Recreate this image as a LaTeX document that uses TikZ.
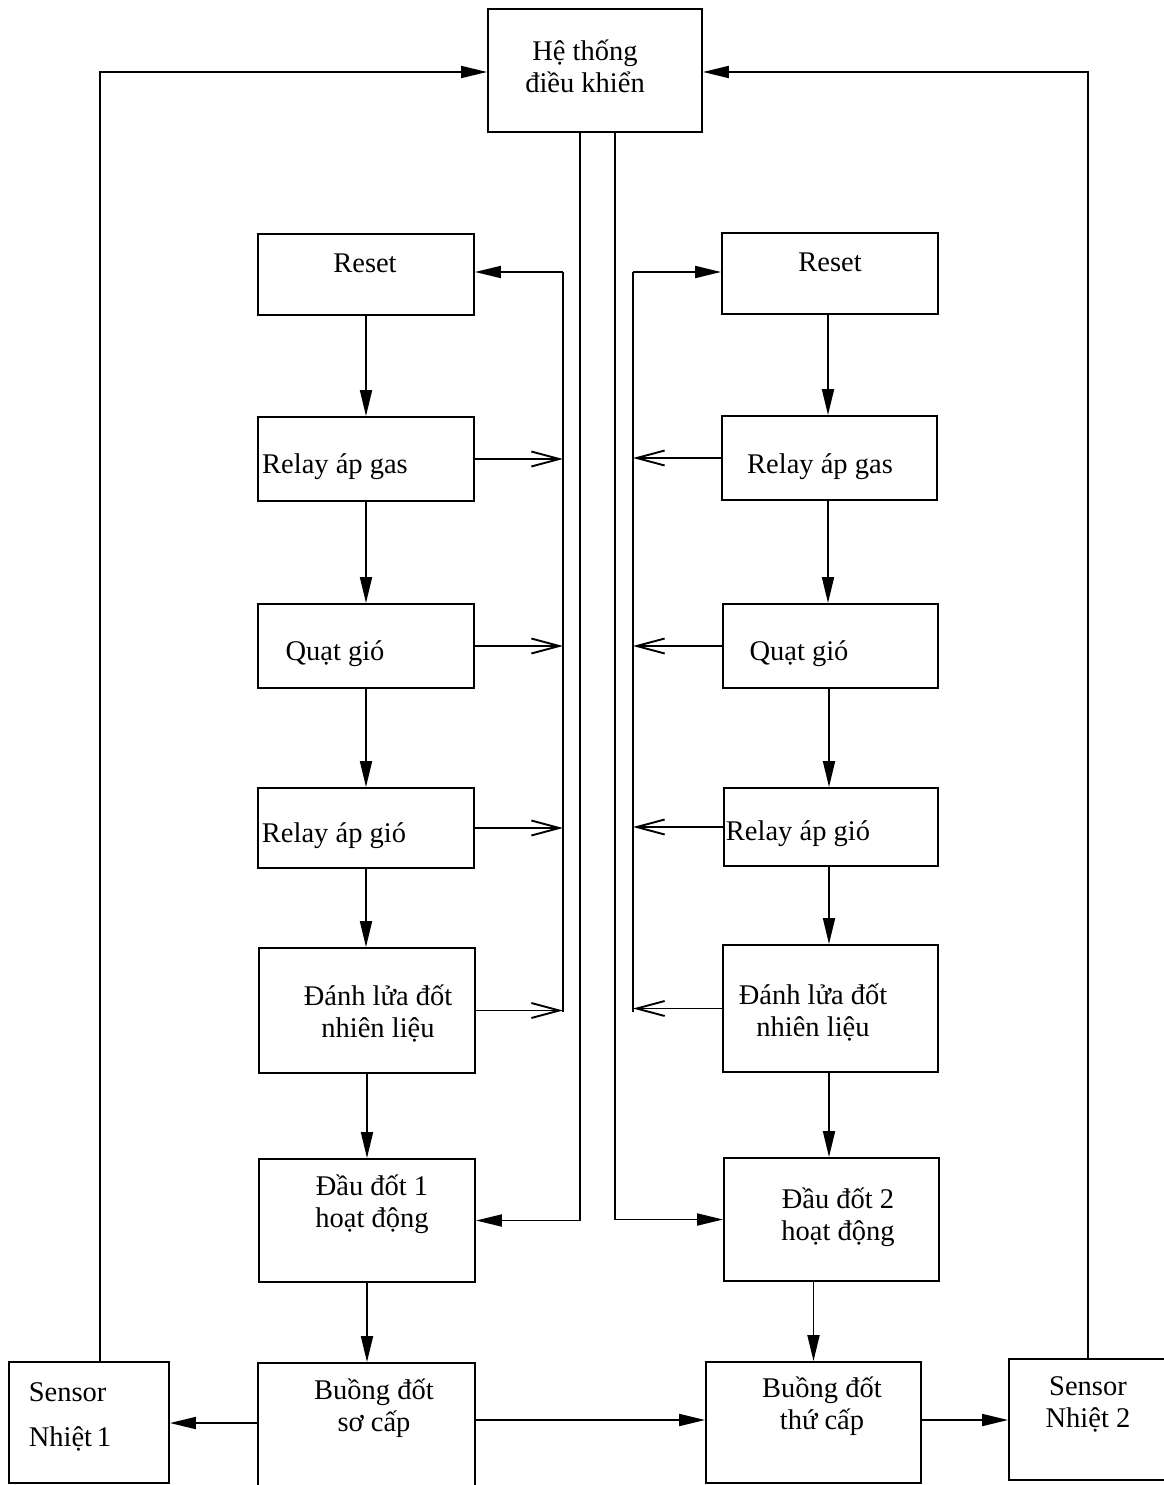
\documentclass[tikz,border=0pt]{standalone}
\usepackage{fontspec}
\setmainfont{Liberation Serif}
\usetikzlibrary{arrows.meta}
\begin{document}
\begin{tikzpicture}[x=1pt,y=-1pt,
  box/.style={draw,line width=1.9pt,rectangle,inner sep=0pt},
  txt/.style={inner sep=0pt,align=center,font=\fontsize{28.5}{32}\selectfont},
  ln/.style={line width=1.9pt},
  fa/.style={line width=1.9pt,-{Triangle[length=26pt,width=12pt]}},
  oa/.style={line width=1.9pt,-{Straight Barb[length=28pt,width=15pt]}}]
\useasboundingbox (0,0) rectangle (1163,1485);
\fill[white] (0,0) rectangle (1163,1485);
% boxes
\node[box,minimum width=214pt,minimum height=123pt] (top) at (595,70.5) {};
\node[box,minimum width=216pt,minimum height=81pt] (rL) at (366,274.5) {};
\node[box,minimum width=216pt,minimum height=84pt] (gL) at (366,459) {};
\node[box,minimum width=216pt,minimum height=84pt] (qL) at (366,646) {};
\node[box,minimum width=216pt,minimum height=80pt] (aL) at (366,828) {};
\node[box,minimum width=216pt,minimum height=125pt] (dL) at (367,1010.5) {};
\node[box,minimum width=216pt,minimum height=123pt] (hL) at (367,1220.5) {};
\node[box,minimum width=217pt,minimum height=130pt] (bL) at (366.5,1428) {};
\node[box,minimum width=160pt,minimum height=121pt] (sL) at (89,1422.5) {};
\node[box,minimum width=216pt,minimum height=81pt] (rR) at (830,273.5) {};
\node[box,minimum width=215pt,minimum height=84pt] (gR) at (829.5,458) {};
\node[box,minimum width=215pt,minimum height=84pt] (qR) at (830.5,646) {};
\node[box,minimum width=214pt,minimum height=78pt] (aR) at (831,827) {};
\node[box,minimum width=215pt,minimum height=127pt] (dR) at (830.5,1008.5) {};
\node[box,minimum width=215pt,minimum height=123pt] (hR) at (831.5,1219.5) {};
\node[box,minimum width=215pt,minimum height=121pt] (bR) at (813.5,1422.5) {};
\node[box,minimum width=161pt,minimum height=121pt] (sR) at (1089.5,1419.5) {};
% texts
\node[txt] (ttop) at (585,66) {Hệ thống\\điều khiển};
\node[txt] (trL) at (365,263) {Reset};
\node[txt] (tgL) at (335,467) {Relay áp gas};
\node[txt] (tqL) at (335,654) {Quạt gió};
\node[txt] (taL) at (334,836) {Relay áp gió};
\node[txt] (tdL) at (378,1014) {Đánh lửa đốt\\nhiên liệu};
\node[txt] (thL) at (372,1204) {Đầu đốt 1\\hoạt động};
\node[txt] (tbL) at (374,1408) {Buồng đốt\\sơ cấp};
\node[txt,align=left] (tsL) at (70,1417) {Sensor\\[13pt]Nhiệt\,1};
\node[txt] (trR) at (830,262) {Reset};
\node[txt] (tgR) at (820,467) {Relay áp gas};
\node[txt] (tqR) at (799,654) {Quạt gió};
\node[txt] (taR) at (798,834) {Relay áp gió};
\node[txt] (tdR) at (813,1013) {Đánh lửa đốt\\nhiên liệu};
\node[txt] (thR) at (838,1217) {Đầu đốt 2\\hoạt động};
\node[txt] (tbR) at (822,1406) {Buồng đốt\\thứ cấp};
\node[txt] (tsR) at (1088,1404) {Sensor\\Nhiệt 2};
% column flow
\draw[fa] (rL.south) -- (gL.north);
\draw[fa] (gL.south) -- (qL.north);
\draw[fa] (qL.south) -- (aL.north);
\draw[fa] (aL.south) -- (aL.south |- dL.north);
\draw[fa] (dL.south) -- (hL.north);
\draw[fa] (hL.south) -- (hL.south |- bL.north);
\draw[fa] (rR.south -| 828,0) -- (gR.north -| 828,0);
\draw[fa] (gR.south -| 828,0) -- (qR.north -| 828,0);
\draw[fa] (qR.south -| 829,0) -- (aR.north -| 829,0);
\draw[fa] (aR.south -| 829,0) -- (dR.north -| 829,0);
\draw[fa] (dR.south -| 829,0) -- (hR.north -| 829,0);
\draw[fa] (hR.south -| bR.north) -- (bR.north);
% buses
\coordinate (lbT) at (563,272);
\coordinate (lbB) at (563,1012);
\coordinate (rbT) at (633,272);
\coordinate (rbB) at (633,1012);
\draw[ln] (lbB) -- (lbT);
\draw[fa] (lbT) -- (rL.east |- lbT);
\draw[ln] (rbB) -- (rbT);
\draw[fa] (rbT) -- (rR.west |- rbT);
\draw[oa] (gL.east) -- (gL.east -| lbT);
\draw[oa] (qL.east) -- (qL.east -| lbT);
\draw[oa] (aL.east) -- (aL.east -| lbT);
\draw[oa] (dL.east) -- (dL.east -| lbT);
\draw[oa] (gR.west) -- (gR.west -| rbT);
\draw[oa] (qR.west) -- (qR.west -| rbT);
\draw[oa] (aR.west) -- (aR.west -| rbT);
\draw[oa] (dR.west) -- (dR.west -| rbT);
% control lines
\coordinate (c1) at (580,1220.5);
\coordinate (c2) at (615,1219.5);
\draw[fa] (top.south -| c1) -- (c1) -- (hL.east);
\draw[fa] (top.south -| c2) -- (c2) -- (hR.west);
% feedback
\coordinate (o1) at (100,72);
\coordinate (o2) at (1088,72);
\draw[fa] (sL.north -| o1) -- (o1) -- (top.west |- o1);
\draw[fa] (sR.north -| o2) -- (o2) -- (top.east |- o2);
% bottom
\coordinate (y1) at (0,1423);
\coordinate (y2) at (0,1420);
\draw[fa] (bL.west |- y1) -- (sL.east |- y1);
\draw[fa] (bL.east |- y2) -- (bR.west |- y2);
\draw[fa] (bR.east |- y2) -- (sR.west |- y2);
\end{tikzpicture}
\end{document}
